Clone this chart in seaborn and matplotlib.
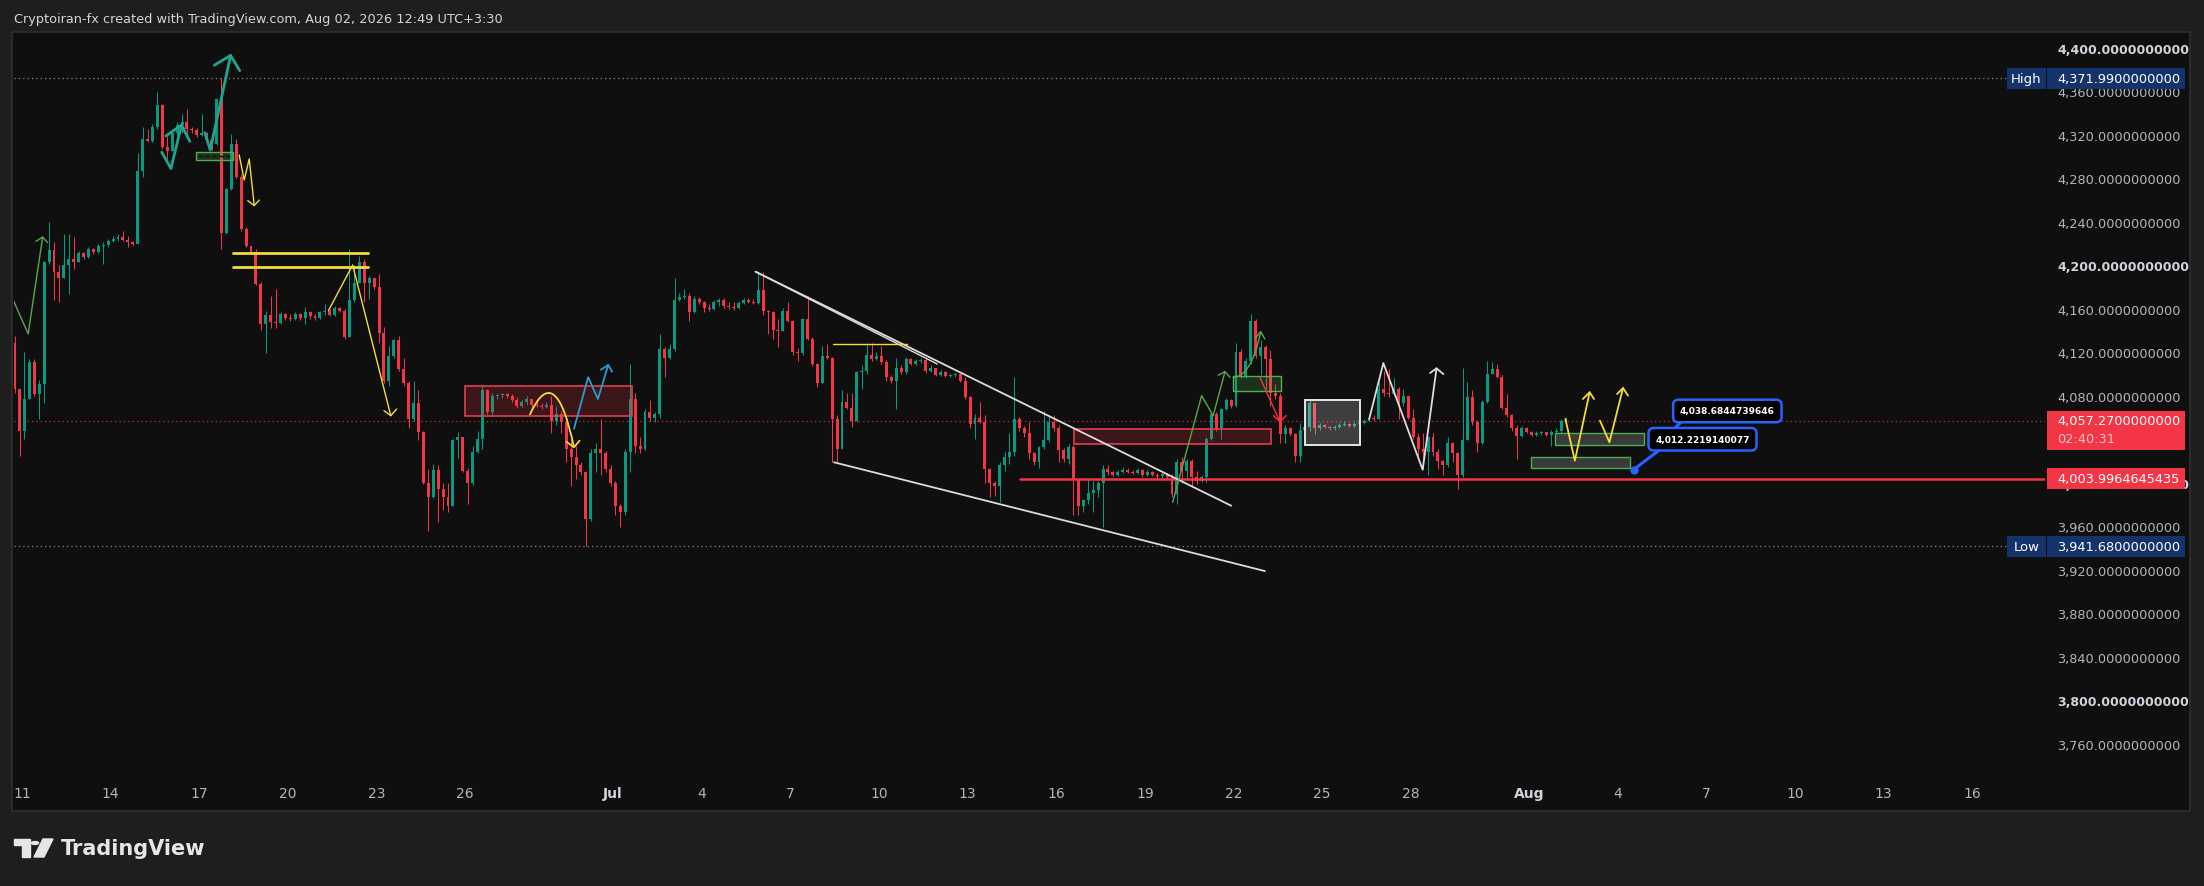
import numpy as np
import seaborn as sns
import matplotlib.pyplot as plt
from matplotlib.colors import to_rgba
from matplotlib.patches import Rectangle, Polygon, Circle, PathPatch
from matplotlib.path import Path
from matplotlib.transforms import blended_transform_factory

sns.set_theme(style="dark")
plt.rcParams['font.family'] = ['DejaVu Sans']

# 4h candles, x = days since Jun 11 00:00
first_candle_day = -0.25
candle_step = 1 / 6
first_open = 4129

closes = [
    4086, 4048, 4077, 4111, 4082, 4091, 4203, 4214, 4194, 4188,
    4200, 4206, 4203, 4211, 4208, 4215, 4212, 4218, 4219, 4222,
    4224, 4226, 4223, 4221, 4220, 4287, 4316, 4314, 4327, 4347,
    4309, 4305, 4322, 4329, 4332, 4325, 4324, 4320, 4322, 4315,
    4312, 4353, 4230, 4270, 4312, 4281, 4233, 4218, 4212, 4183,
    4146, 4154, 4148, 4147, 4155, 4152, 4151, 4155, 4152, 4157,
    4153, 4152, 4157, 4158, 4154, 4161, 4158, 4134, 4168, 4184,
    4203, 4184, 4188, 4180, 4138, 4094, 4117, 4131, 4105, 4092,
    4059, 4073, 4047, 4000, 3987, 4012, 3994, 3987, 3979, 4039,
    4042, 4011, 4000, 4028, 4040, 4085, 4065, 4080, 4081, 4082,
    4080, 4076, 4071, 4074, 4077, 4072, 4071, 4070, 4072, 4057,
    4063, 4056, 4031, 4024, 4016, 4010, 3967, 4027, 4031, 4027,
    4013, 4000, 3979, 3973, 4028, 4077, 4034, 4031, 4065, 4060,
    4063, 4123, 4115, 4123, 4168, 4171, 4172, 4157, 4169, 4166,
    4161, 4160, 4166, 4168, 4163, 4162, 4161, 4165, 4168, 4166,
    4165, 4177, 4158, 4157, 4141, 4140, 4158, 4149, 4120, 4119,
    4151, 4132, 4109, 4092, 4117, 4115, 4059, 4031, 4074, 4069,
    4057, 4102, 4103, 4118, 4114, 4117, 4111, 4097, 4094, 4106,
    4102, 4114, 4109, 4112, 4113, 4103, 4106, 4099, 4102, 4098,
    4099, 4100, 4094, 4079, 4054, 4060, 4056, 4013, 4000, 3997,
    4016, 4024, 4028, 4059, 4050, 4046, 4027, 4019, 4033, 4039,
    4056, 4050, 4030, 4022, 4033, 4004, 3979, 3984, 3991, 3993,
    4000, 4013, 4010, 4007, 4010, 4012, 4010, 4009, 4012, 4007,
    4010, 4007, 4006, 4008, 4005, 3990, 4019, 4011, 4020, 4005,
    4002, 4005, 4040, 4063, 4050, 4068, 4076, 4071, 4120, 4097,
    4112, 4149, 4117, 4125, 4114, 4083, 4080, 4045, 4050, 4045,
    4025, 4049, 4051, 4073, 4050, 4053, 4051, 4050, 4051, 4053,
    4054, 4052, 4054, 4055, 4057, 4060, 4059, 4086, 4083, 4082,
    4086, 4073, 4080, 4060, 4042, 4031, 4028, 4042, 4028, 4020,
    4016, 4037, 4027, 4007, 4039, 4079, 4056, 4037, 4074, 4100,
    4105, 4097, 4069, 4062, 4050, 4043, 4050, 4047, 4044, 4046,
    4047, 4044, 4047, 4048, 4057, 4057.27,
]
highs = [
    4135, 4086, 4120, 4114, 4114, 4095, 4204, 4240, 4221, 4200,
    4229, 4229, 4226, 4213, 4212, 4217, 4216, 4220, 4221, 4224,
    4227, 4229, 4232, 4227, 4222, 4303, 4327, 4325, 4330, 4359,
    4348, 4319, 4325, 4332, 4339, 4344, 4327, 4326, 4339, 4323,
    4318, 4354, 4371.99, 4271, 4321, 4316, 4284, 4235, 4218, 4215,
    4185, 4158, 4172, 4178, 4157, 4156, 4155, 4157, 4156, 4162,
    4158, 4155, 4158, 4164, 4160, 4163, 4162, 4160, 4215, 4200,
    4209, 4206, 4190, 4187, 4192, 4143, 4126, 4132, 4135, 4115,
    4094, 4094, 4085, 4048, 4013, 4017, 4016, 4000, 4000, 4040,
    4047, 4031, 4014, 4034, 4048, 4089, 4086, 4083, 4082, 4083,
    4083, 4082, 4079, 4076, 4080, 4077, 4075, 4073, 4074, 4080,
    4071, 4066, 4059, 4042, 4034, 4019, 4011, 4031, 4037, 4059,
    4029, 4016, 4002, 3981, 4031, 4109, 4083, 4042, 4068, 4076,
    4065, 4137, 4125, 4128, 4188, 4175, 4178, 4175, 4172, 4171,
    4167, 4164, 4168, 4170, 4170, 4166, 4166, 4167, 4170, 4170,
    4169, 4195, 4194, 4159, 4158, 4151, 4161, 4166, 4150, 4124,
    4152, 4172, 4134, 4110, 4126, 4128, 4116, 4062, 4085, 4083,
    4083, 4103, 4108, 4129, 4129, 4120, 4126, 4113, 4099, 4115,
    4108, 4116, 4115, 4114, 4115, 4115, 4108, 4106, 4104, 4103,
    4100, 4101, 4100, 4097, 4080, 4063, 4074, 4062, 4014, 4002,
    4019, 4028, 4046, 4097, 4061, 4052, 4056, 4028, 4034, 4066,
    4062, 4062, 4053, 4032, 4036, 4035, 4004, 3985, 4004, 4002,
    4002, 4016, 4016, 4011, 4012, 4015, 4014, 4012, 4014, 4013,
    4012, 4011, 4009, 4010, 4009, 4008, 4022, 4024, 4022, 4022,
    4011, 4007, 4042, 4065, 4065, 4069, 4078, 4077, 4129, 4123,
    4115, 4155, 4151, 4131, 4127, 4122, 4091, 4083, 4053, 4051,
    4046, 4055, 4054, 4076, 4073, 4055, 4054, 4052, 4053, 4055,
    4057, 4055, 4056, 4057, 4059, 4063, 4062, 4093, 4103, 4105,
    4096, 4088, 4086, 4079, 4068, 4046, 4046, 4043, 4046, 4031,
    4021, 4042, 4038, 4028, 4106, 4093, 4085, 4058, 4076, 4112,
    4111, 4109, 4099, 4082, 4063, 4053, 4052, 4051, 4048, 4048,
    4048, 4047, 4049, 4050, 4059, 4061,
]
lows = [
    4083, 4025, 4040, 4077, 4080, 4059, 4073, 4201, 4168, 4166,
    4188, 4174, 4197, 4203, 4206, 4207, 4210, 4211, 4201, 4217,
    4221, 4222, 4222, 4217, 4219, 4220, 4281, 4313, 4313, 4325,
    4307, 4298, 4305, 4320, 4322, 4319, 4322, 4318, 4319, 4312,
    4306, 4311, 4215, 4229, 4269, 4280, 4232, 4217, 4211, 4182,
    4141, 4119, 4142, 4142, 4146, 4150, 4149, 4150, 4150, 4146,
    4151, 4150, 4151, 4154, 4153, 4153, 4157, 4132, 4134, 4166,
    4184, 4166, 4169, 4178, 4129, 4092, 4089, 4115, 4103, 4089,
    4050, 4057, 4039, 3999, 3956, 3986, 3964, 3975, 3973, 3979,
    4023, 4010, 3981, 3998, 4027, 4031, 4063, 4062, 4077, 4078,
    4078, 4074, 4069, 4070, 4072, 4070, 4070, 4068, 4069, 4046,
    4053, 4046, 4019, 3997, 4004, 4007, 3941.68, 3965, 4010, 4007,
    4010, 3997, 3970, 3959, 3970, 4010, 4027, 4027, 4030, 4057,
    4056, 4060, 4097, 4114, 4121, 4167, 4169, 4149, 4156, 4164,
    4157, 4158, 4159, 4163, 4161, 4160, 4159, 4160, 4164, 4165,
    4164, 4164, 4154, 4137, 4132, 4125, 4140, 4148, 4118, 4112,
    4118, 4131, 4107, 4088, 4092, 4114, 4019, 4019, 4031, 4068,
    4051, 4056, 4086, 4100, 4112, 4113, 4109, 4094, 4092, 4068,
    4100, 4100, 4108, 4108, 4110, 4101, 4102, 4098, 4098, 4097,
    4097, 4097, 4093, 4077, 4050, 4040, 4055, 4000, 3987, 3988,
    3982, 4011, 4017, 4025, 4048, 4042, 4022, 4016, 4014, 4031,
    4038, 4048, 4019, 4019, 4017, 3970, 3970, 3973, 3981, 3973,
    3987, 3959, 4007, 4006, 4006, 4009, 4009, 4008, 4008, 4005,
    4006, 4006, 4004, 4004, 4003, 3987, 3981, 4000, 4004, 3996,
    3999, 4001, 4001, 4039, 4048, 4040, 4067, 4069, 4070, 4096,
    4096, 4109, 4115, 4099, 4086, 4071, 4077, 4037, 4037, 4043,
    4019, 4019, 4037, 4048, 4045, 4049, 4050, 4049, 4049, 4050,
    4052, 4051, 4051, 4053, 4054, 4056, 4057, 4059, 4080, 4079,
    4080, 4059, 4071, 4059, 4040, 4025, 4013, 4007, 4025, 4013,
    4007, 4015, 4019, 3994, 4005, 4039, 4053, 4028, 4036, 4073,
    4100, 4096, 4068, 4061, 4048, 4022, 4042, 4046, 4043, 4043,
    4044, 4043, 4034, 4046, 4046, 4055,
]

high_price = 4371.99
low_price = 3941.68
last_price = 4057.27
level_price = 4003.9964645435
countdown = "02:40:31"

price_ticks = list(range(3760, 4401, 40))
day_ticks = [0, 3, 6, 9, 12, 15, 20, 23, 26, 29, 32, 35, 38, 41, 44, 47, 51, 54, 57, 60, 63, 66]
day_labels = ['11', '14', '17', '20', '23', '26', 'Jul', '4', '7', '10', '13', '16',
              '19', '22', '25', '28', 'Aug', '4', '7', '10', '13', '16']

# drawings: (days, prices)
green_left = ([-0.41, 0.21, 0.70], [4175, 4137, 4226])
green_left_head = ([0.47, 0.70, 0.86], [4222, 4226, 4221])
teal_1 = ([4.73, 5.04, 5.40], [4304, 4289, 4329])
teal_1_head = ([4.87, 5.40, 5.68], [4319, 4329, 4314])
teal_2 = ([6.19, 6.37, 7.06], [4322, 4306, 4393])
teal_2_head = ([6.51, 7.06, 7.37], [4384, 4393, 4379])
green_box_1 = ([5.88, 7.13], [4297.2, 4303.9])
yellow_1 = ([7.35, 7.52, 7.69, 7.86], [4301.5, 4278.5, 4297.8, 4255])
yellow_1_head = ([7.64, 7.86, 8.03], [4259.5, 4255, 4260])
yellow_levels = ([7.15, 11.70], [4211.4, 4198.8])
yellow_2 = ([10.37, 11.19, 12.48], [4158.3, 4200.3, 4061.8])
yellow_2_head = ([12.25, 12.48, 12.68], [4066.4, 4061.8, 4067.9])
red_box_1 = ([15.0, 20.65], [4061.2, 4088.8])
yellow_arc = ([17.18, 18.05, 18.68], [4062.4, 4114.6, 4032.7])
yellow_arc_head = ([18.42, 18.68, 18.87], [4037.9, 4032.7, 4038.8])
blue_zig = ([18.68, 19.16, 19.49, 19.84], [4049.6, 4097.1, 4077.1, 4108.4])
blue_zig_head = ([19.59, 19.84, 19.97], [4104.1, 4108.4, 4102.2])
wedge_top = ([24.82, 40.92], [4194.2, 3979.0])
wedge_top_2 = ([24.82, 30.97], [4194.2, 4109.3])
wedge_bottom = ([27.48, 42.06], [4018.9, 3918.9])
yellow_short = ([27.45, 29.96], [4127.9, 4127.9])
red_level_start = 33.76
red_box_2 = ([35.61, 42.28], [4035.5, 4049.5])
green_zig = ([38.94, 39.92, 40.31, 40.71], [3982.1, 4080.2, 4061.8, 4102.2])
green_zig_head = ([40.48, 40.71, 40.88], [4099.0, 4102.2, 4097.1])
green_curve = ([40.97, 41.60, 41.92], [4097.1, 4097.0, 4139.0])
green_curve_head = ([41.73, 41.92, 42.06], [4132.9, 4139.0, 4132.3])
red_arrow = ([41.89, 42.57], [4097.1, 4056.2])
red_arrow_head = ([42.35, 42.57, 42.78], [4061.8, 4056.2, 4061.8])
green_box_2 = ([40.97, 42.60], [4084.8, 4098.0])
gray_box_1 = ([43.43, 45.27], [4035.1, 4076.2])
white_zig = ([45.59, 46.07, 47.40, 47.87], [4058.7, 4110.2, 4012.1, 4105.3])
white_zig_head = ([47.65, 47.87, 48.10], [4101.0, 4105.3, 4100.0])
yellow_3 = ([52.23, 52.55, 53.05], [4058.7, 4020.4, 4083.3])
yellow_3_head = ([52.82, 53.05, 53.20], [4077.1, 4083.3, 4077.1])
yellow_4 = ([53.40, 53.72, 54.18], [4057.2, 4037.3, 4087.2])
yellow_4_head = ([53.98, 54.18, 54.35], [4081.7, 4087.2, 4080.2])
gray_box_2 = ([51.88, 54.89], [4034.8, 4045.9])
gray_box_3 = ([51.08, 54.41], [4013.7, 4023.5])
callout_1 = (57.71, 4066.1, '4,038.6844739646')
callout_2 = (56.87, 4040.1, '4,012.2219140077')
callout_dot = (54.54, 4012.2)

UP, DOWN = '#089981', '#f23645'
TEAL, OLIVE, YELLOW, BLUE, WHITE = '#1fa58f', '#58a64a', '#f2dd3a', '#2b9bd1', '#dcdcdc'

W, H = 2204, 887
fig = plt.figure(figsize=(W / 100, H / 100), dpi=100)
fig.patch.set_facecolor('#1e1e1e')


def fx(px):
    return px / W


def fy(py):
    return 1 - py / H


fig.add_artist(Rectangle((fx(12), fy(812)), fx(2190) - fx(12), fy(33) - fy(812),
                         transform=fig.transFigure, facecolor='#0f0f0f',
                         edgecolor='#2e2e2e', lw=1.2, zorder=-5))

ax = fig.add_axes([fx(14), fy(776), fx(2045) - fx(14), fy(35) - fy(776)])
ax.set_facecolor('#0f0f0f')
for s in ax.spines.values():
    s.set_visible(False)
ax.grid(False)

# candles
n = min(len(closes), len(highs), len(lows))
c = np.array(closes[:n], float)
o = np.r_[first_open, c[:-1]]
h = np.maximum(np.array(highs[:n], float), np.maximum(o, c))
l = np.minimum(np.array(lows[:n], float), np.minimum(o, c))
x = first_candle_day + np.arange(n) * candle_step
cols = np.where(c >= o, UP, DOWN)
ax.vlines(x, l, h, colors=cols, lw=0.75, zorder=3)
ax.bar(x, np.maximum(np.abs(c - o), 1.0), bottom=np.minimum(o, c), width=0.1,
       color=cols, linewidth=0, zorder=3)


def path(pts, color, lw=1.0, z=6):
    sns.lineplot(x=pts[0], y=pts[1], sort=False, estimator=None, color=color,
                 linewidth=lw, ax=ax, zorder=z, legend=False)


def box(pts, fc, falpha, ec, lw=1.2, z=4):
    ax.add_patch(Rectangle((pts[0][0], pts[1][0]), pts[0][1] - pts[0][0], pts[1][1] - pts[1][0],
                           facecolor=to_rgba(fc, falpha), edgecolor=ec, lw=lw, zorder=z))


def curve(pts, color, lw=1.0):
    verts = list(zip(pts[0], pts[1]))
    ax.add_patch(PathPatch(Path(verts, [Path.MOVETO, Path.CURVE3, Path.CURVE3]),
                           fill=False, edgecolor=color, lw=lw, zorder=6))


# dotted high / low / last-price lines
ax.axhline(high_price, 0, 0.981, color='#8a8a8a', lw=0.9, ls=(0, (1, 2.5)), zorder=2)
ax.axhline(low_price, 0, 0.981, color='#8a8a8a', lw=0.9, ls=(0, (1, 2.5)), zorder=2)
ax.axhline(last_price, 0, 1, color=DOWN, lw=0.9, ls=(0, (1, 2.5)), alpha=0.8, zorder=2)

# boxes
box(green_box_1, '#4caf50', 0.22, '#4caf50', lw=1.0)
ax.hlines(np.mean(green_box_1[1]), green_box_1[0][0] + 0.08, green_box_1[0][1] - 0.08,
          colors='#101010', lw=1.0, ls=(0, (3, 2)), zorder=5)
box(red_box_1, '#f23645', 0.20, '#e0404f')
box(red_box_2, '#f23645', 0.20, '#e0404f')
box(green_box_2, '#4caf50', 0.22, '#4caf50', lw=1.0)
box(gray_box_1, 'white', 0.20, '#e6e6e6', lw=1.4)
box(gray_box_2, 'white', 0.18, '#4caf50', lw=1.0)
box(gray_box_3, 'white', 0.18, '#4caf50', lw=1.0)

# lines & arrows
path(green_left, OLIVE, 1.0)
path(green_left_head, OLIVE, 1.0)
path(teal_1, TEAL, 2.0)
path(teal_1_head, TEAL, 2.0)
path(teal_2, TEAL, 2.0)
path(teal_2_head, TEAL, 2.0)
path(yellow_1, YELLOW, 1.0)
path(yellow_1_head, YELLOW, 1.0)
for lvl in yellow_levels[1]:
    path((yellow_levels[0], [lvl, lvl]), YELLOW, 2.0)
path(yellow_2, YELLOW, 1.0)
path(yellow_2_head, YELLOW, 1.0)
curve(yellow_arc, YELLOW, 1.3)
path(yellow_arc_head, YELLOW, 1.3)
path(blue_zig, BLUE, 1.3)
path(blue_zig_head, BLUE, 1.3)
path(wedge_top, WHITE, 1.3)
path(wedge_top_2, WHITE, 1.0)
path(wedge_bottom, WHITE, 1.3)
path(yellow_short, YELLOW, 1.0)
xmin, xmax = -0.27, 68.46
ax.axhline(level_price, (red_level_start - xmin) / (xmax - xmin), 1, color=DOWN, lw=1.8, zorder=5)
path(green_zig, OLIVE, 1.0)
path(green_zig_head, OLIVE, 1.0)
curve(green_curve, OLIVE, 1.0)
path(green_curve_head, OLIVE, 1.0)
path(red_arrow, DOWN, 1.0)
path(red_arrow_head, DOWN, 1.0)
path(white_zig, WHITE, 1.3)
path(white_zig_head, WHITE, 1.3)
path(yellow_3, YELLOW, 1.3)
path(yellow_3_head, YELLOW, 1.3)
path(yellow_4, YELLOW, 1.3)
path(yellow_4_head, YELLOW, 1.3)

# callouts
ax.plot([56.15, 55.7], [4056, 4044], color='#2962ff', lw=2.2, zorder=11)
ax.text(callout_1[0], callout_1[1], callout_1[2], ha='center', va='center', fontsize=6.5,
        fontweight='bold', color='white', zorder=12,
        bbox=dict(boxstyle='round,pad=0.75,rounding_size=0.6', fc='black', ec='#2962ff', lw=1.8))
ax.plot([55.45, callout_dot[0]], [4031, callout_dot[1]], color='#2962ff', lw=2.2, zorder=13)
ax.plot([callout_dot[0]], [callout_dot[1]], 'o', ms=5, color='#2962ff', zorder=13)
ax.text(callout_2[0], callout_2[1], callout_2[2], ha='center', va='center', fontsize=6.5,
        fontweight='bold', color='white', zorder=14,
        bbox=dict(boxstyle='round,pad=0.75,rounding_size=0.6', fc='black', ec='#2962ff', lw=1.8))

ax.set_xlim(xmin, xmax)
ax.set_ylim(3731.4, 4412.7)
ax.set_xlabel('')
ax.set_ylabel('')

# price scale
ax.yaxis.tick_right()
ax.set_yticks(price_ticks)
ax.set_yticklabels([f'{v:,.10f}' for v in price_ticks])
ax.tick_params(axis='y', length=0, pad=8.6, labelsize=9.3, labelcolor='#b2b5be')
for v, t in zip(price_ticks, ax.get_yticklabels()):
    if v % 200 == 0:
        t.set_fontweight('bold')
        t.set_fontsize(9)
        t.set_color('#d1d4dc')

ax.set_xticks(day_ticks)
ax.set_xticklabels(day_labels)
ax.tick_params(axis='x', length=0, pad=8, labelsize=10, labelcolor='#b2b5be')
for lab, t in zip(day_labels, ax.get_xticklabels()):
    if not lab.isdigit():
        t.set_fontweight('bold')
        t.set_color('#d1d4dc')

# price tags on the scale
trans = blended_transform_factory(ax.transAxes, ax.transData)
tag_x0, tag_w, text_x = 1.0008, 0.0681, 1.0059


def price_tag(price, text, fc, top=9.8, bottom=9.8, txt_color='white'):
    ax.add_patch(Rectangle((tag_x0, price - bottom), tag_w, top + bottom, transform=trans,
                           facecolor=fc, edgecolor='none', clip_on=False, zorder=20))
    ax.text(text_x, price, text, transform=trans, color=txt_color, fontsize=9.3,
            va='center', ha='left', zorder=21, clip_on=False)


def side_tag(price, text, fc):
    ax.add_patch(Rectangle((0.9811, price - 9.8), 0.0194, 19.6, transform=trans,
                           facecolor=fc, edgecolor='none', clip_on=False, zorder=20))
    ax.text(0.9908, price, text, transform=trans, color='white', fontsize=9.5,
            va='center', ha='center', zorder=21, clip_on=False)


NAVY = '#15336b'
price_tag(high_price, f'{high_price:,.10f}', NAVY)
side_tag(high_price, 'High', NAVY)
price_tag(low_price, f'{low_price:,.10f}', NAVY)
side_tag(low_price, 'Low', NAVY)
price_tag(last_price, f'{last_price:,.10f}', DOWN, top=8.9, bottom=26.6)
ax.text(text_x, last_price - 16.4, countdown, transform=trans, color='#fbc4ca', fontsize=9.3,
        va='center', ha='left', zorder=21, clip_on=False)
price_tag(level_price, f'{level_price:,.10f}', DOWN)

# header and watermark
fig.text(fx(14), fy(19), 'Cryptoiran-fx created with TradingView.com, Aug 02, 2026 12:49 UTC+3:30',
         color='#d1d4dc', fontsize=9.3, va='center', ha='left')
logo_c = '#e6e6e6'
fig.add_artist(Rectangle((fx(14), fy(846)), fx(30) - fx(14), fy(840) - fy(846),
                         transform=fig.transFigure, color=logo_c))
fig.add_artist(Rectangle((fx(22), fy(858)), fx(30) - fx(22), fy(846) - fy(858),
                         transform=fig.transFigure, color=logo_c))
fig.add_artist(Circle((fx(35), fy(844)), 3.6 / W, transform=fig.transFigure, color=logo_c))
fig.add_artist(Polygon([(fx(43), fy(840)), (fx(53), fy(840)), (fx(44), fy(858)), (fx(34), fy(858))],
                       closed=True, transform=fig.transFigure, color=logo_c))
fig.text(fx(61), fy(849), 'TradingView', color=logo_c, fontsize=15, fontweight='bold',
         va='center', ha='left')

fig.savefig('out.png', dpi=100, facecolor=fig.get_facecolor())
